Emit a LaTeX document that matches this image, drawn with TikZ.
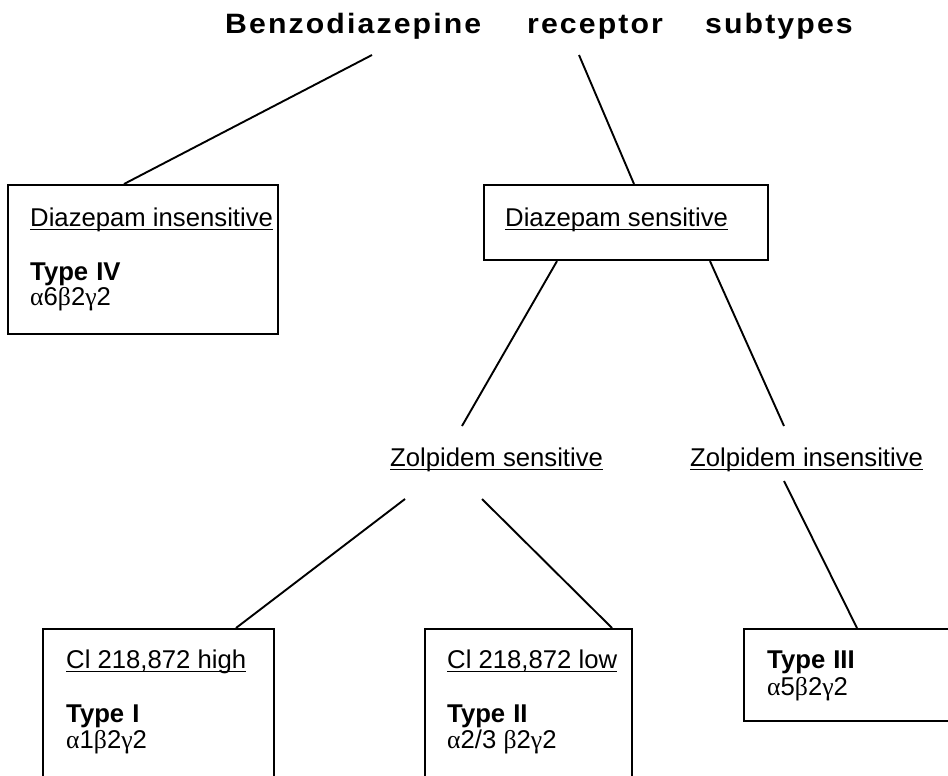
\documentclass[tikz,border=0pt]{standalone}
\usepackage{graphicx}
\usepackage{fontspec}
\setmainfont{Liberation Sans}
\newfontfamily\grkfont{Liberation Serif}
\newfontfamily\ttlfont[LetterSpace=7]{Liberation Sans}
\newcommand{\ulin}[1]{\leavevmode\setbox0\hbox{#1}\rlap{\rule[-4pt]{\wd0}{1.4pt}}\box0}
\newcommand{\gal}{{\grkfont α}}
\newcommand{\gbe}{{\grkfont β}}
\newcommand{\gga}{{\grkfont γ}}
\newcommand{\ttlword}[1]{\scalebox{1.08}[1]{#1}}
\begin{document}
\begin{tikzpicture}[x=1pt,y=-1pt,
  box/.style={draw, line width=2.1pt, inner sep=0pt, anchor=north west},
  conn/.style={line width=1.9pt},
  txt/.style={anchor=base west, inner sep=0pt, font=\fontsize{25.7}{29}\selectfont},
  btxt/.style={anchor=base west, inner sep=0pt, font=\fontsize{25.7}{29}\selectfont\bfseries},
  ttxt/.style={anchor=base west, inner sep=0pt, font=\fontsize{28}{32}\selectfont\ttlfont\bfseries}]
\useasboundingbox (0,0) rectangle (948,776);
\clip (0,0) rectangle (948,776);
\fill[white] (0,0) rectangle (948,776);

% title
\node[ttxt] (t1) at (225,34) {\ttlword{Benzodiazepine}};
\node[ttxt] (t2) at (527,34) {\ttlword{receptor}};
\node[ttxt] (t3) at (705,34) {\ttlword{subtypes}};
\coordinate (c1) at (372,55);
\coordinate (c2) at (579,55);

% boxes
\node[box, minimum width=270pt, minimum height=149pt] (b4) at (7,184) {};
\node[box, minimum width=284pt, minimum height=75pt] (bds) at (483,184) {};
\node[box, minimum width=231pt, minimum height=170pt] (b1) at (42,628) {};
\node[box, minimum width=207pt, minimum height=170pt] (b2) at (424,628) {};
\node[box, minimum width=230pt, minimum height=92pt] (b3) at (743,628) {};

% box texts
\node[txt] (d4) at (30,226) {\ulin{Diazepam insensitive}};
\node[btxt] (ty4) at (30,280) {Type\hspace{8pt}IV};
\node[txt] (s4) at (30,305) {\gal6\gbe2\gga2};

\node[txt] (dds) at (505,226) {\ulin{Diazepam sensitive}};

\node[txt] (zs) at (390,466) {\ulin{Zolpidem sensitive}};
\node[txt] (zi) at (690,466) {\ulin{Zolpidem insensitive}};

\node[txt] (cih) at (66,668) {\ulin{Cl 218,872 high}};
\node[btxt] (ty1) at (66,722) {Type\hspace{8pt}I};
\node[txt] (s1) at (66,748) {\gal1\gbe2\gga2};

\node[txt] (cil) at (447,668) {\ulin{Cl 218,872 low}};
\node[btxt] (ty2) at (447,722) {Type\hspace{8pt}II};
\node[txt] (s2) at (447,748) {\gal2/3 \gbe2\gga2};

\node[btxt] (ty3) at (767,668) {Type\hspace{8pt}III};
\node[txt] (s3) at (767,695) {\gal5\gbe2\gga2};

% connector end points near free labels
\coordinate (c3) at (462,426);
\coordinate (c4) at (784,426);
\coordinate (c5) at (405,499);
\coordinate (c6) at (482,499);
\coordinate (c7) at (784,481);

% connectors
\draw[conn] (c1) -- ([xshift=117pt]b4.north west);
\draw[conn] (c2) -- ([xshift=151pt]bds.north west);
\draw[conn] ([xshift=74pt]bds.south west) -- (c3);
\draw[conn] ([xshift=227pt]bds.south west) -- (c4);
\draw[conn] (c5) -- ([xshift=194pt]b1.north west);
\draw[conn] (c6) -- ([xshift=188pt]b2.north west);
\draw[conn] (c7) -- ([xshift=114pt]b3.north west);
\end{tikzpicture}
\end{document}
